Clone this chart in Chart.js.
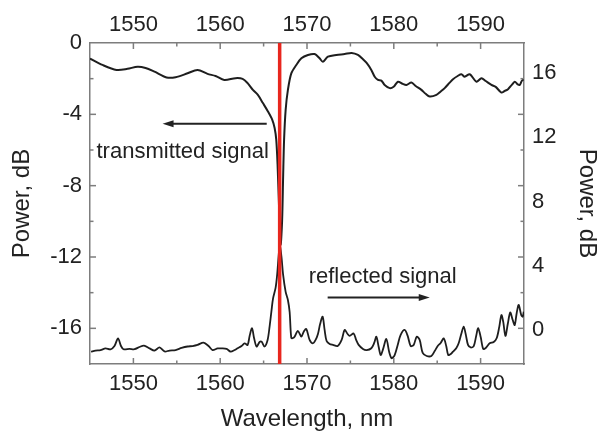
<!DOCTYPE html>
<html><head><meta charset="utf-8">
<script src="https://cdn.jsdelivr.net/npm/chart.js@4.4.1/dist/chart.umd.min.js"></script>
<style>html,body{margin:0;padding:0;background:#fff;overflow:hidden}canvas{display:block}</style>
</head><body><canvas id="c" width="599" height="431"></canvas>
<script>
// ---- data ----
const transWavelength = [1545.00,1546.44,1548.05,1549.32,1550.48,1551.40,1552.43,1553.82,1554.86,1556.24,1557.39,1558.54,1559.47,1560.47,1561.77,1562.58,1563.16,1563.77,1564.34,1564.92,1565.50,1566.00,1566.27,1566.46,1566.61,1566.79,1566.96,1567.13,1567.25,1567.36,1567.54,1567.80,1568.19,1568.77,1569.35,1570.11,1570.88,1571.45,1571.83,1572.41,1573.38,1574.34,1575.14,1575.87,1576.45,1576.87,1577.41,1577.80,1578.18,1578.57,1578.95,1579.53,1579.98,1580.48,1581.02,1581.45,1582.03,1582.52,1583.18,1583.67,1584.14,1584.91,1585.40,1585.86,1586.44,1586.82,1587.36,1587.79,1588.17,1588.75,1589.52,1590.10,1590.59,1591.25,1591.74,1592.40,1592.78,1593.16,1593.59,1593.94,1594.28,1594.51,1594.74,1594.97];
const transPower = [-0.87,-1.23,-1.51,-1.45,-1.33,-1.40,-1.61,-1.93,-1.92,-1.70,-1.51,-1.73,-1.85,-2.07,-1.97,-2.01,-2.25,-2.63,-2.91,-3.37,-3.84,-4.31,-4.77,-5.43,-6.83,-9.34,-11.3,-10.0,-7.5,-5.43,-3.75,-2.63,-1.70,-1.23,-0.86,-0.67,-0.62,-0.86,-1.05,-0.77,-0.67,-0.62,-0.56,-0.67,-0.91,-1.12,-1.51,-1.89,-2.07,-2.11,-2.35,-2.53,-2.45,-2.17,-2.29,-2.35,-2.22,-2.41,-2.63,-2.85,-3.00,-2.91,-2.72,-2.53,-2.22,-2.03,-1.85,-1.75,-1.89,-1.75,-2.17,-1.97,-2.13,-2.35,-2.46,-2.78,-2.69,-2.59,-2.35,-2.17,-2.32,-2.35,-2.13,-2.03];

const reflWavelength = [1545.12,1545.63,1546.21,1546.79,1547.36,1547.82,1548.23,1548.57,1548.86,1549.55,1550.13,1550.71,1551.22,1551.86,1552.43,1553.01,1553.59,1554.16,1554.86,1555.55,1556.24,1556.82,1557.39,1558.08,1558.66,1559.12,1559.70,1560.16,1560.73,1561.20,1561.66,1562.00,1562.46,1562.81,1563.16,1563.39,1563.67,1563.90,1564.19,1564.54,1564.77,1565.11,1565.46,1565.69,1565.92,1566.09,1566.38,1566.56,1566.79,1566.90,1567.07,1567.25,1567.54,1567.80,1568.00,1568.19,1568.40,1568.57,1568.95,1569.35,1569.61,1569.92,1570.30,1570.68,1570.99,1571.26,1571.51,1571.80,1572.03,1572.26,1572.61,1572.99,1573.53,1573.99,1574.34,1574.68,1574.91,1575.37,1575.66,1575.95,1576.45,1576.87,1577.41,1577.74,1577.99,1578.26,1578.49,1578.77,1579.14,1579.47,1579.75,1580.10,1580.48,1580.79,1581.25,1581.60,1581.94,1582.29,1582.64,1582.98,1583.33,1583.79,1584.33,1584.71,1585.06,1585.40,1585.75,1586.04,1586.27,1586.56,1586.82,1587.21,1587.48,1587.77,1588.05,1588.28,1588.55,1588.86,1589.21,1589.49,1589.72,1590.01,1590.30,1590.59,1591.05,1591.51,1591.86,1592.15,1592.40,1592.61,1592.86,1593.13,1593.41,1593.70,1593.93,1594.16,1594.39,1594.68,1594.85,1594.97];
const reflPower = [-1.35,-1.28,-1.25,-1.15,-1.21,-1.00,-0.52,-1.00,-1.20,-1.18,-1.20,-1.06,-0.97,-1.15,-1.28,-1.09,-1.34,-1.28,-1.25,-1.12,-1.03,-1.00,-0.93,-0.79,-1.00,-1.25,-1.15,-1.15,-1.18,-1.35,-1.25,-1.14,-1.00,-0.83,-0.93,-0.37,0.11,-0.50,-1.03,-0.75,-0.73,-1.03,-0.62,0.21,1.25,1.97,2.62,3.43,4.98,5.19,4.49,3.43,2.37,1.87,1.12,-0.50,-0.50,-0.42,-0.06,-0.42,-0.12,0.06,-0.62,-0.83,-0.62,-0.25,0.37,0.83,0.00,-0.69,-0.87,-0.93,-1.00,-0.62,0.00,-0.25,-0.37,-0.22,-0.62,-0.93,-1.18,-1.25,-1.14,-0.81,-0.42,-1.06,-1.56,-1.18,-0.56,-1.37,-1.76,-1.56,-0.87,-0.31,0.00,-0.37,-1.00,-0.93,-0.42,-0.62,-1.43,-1.62,-1.62,-1.31,-1.00,-0.81,-0.52,-1.00,-1.56,-1.50,-1.35,-1.12,-0.81,-0.25,0.21,-0.25,-0.93,-1.09,-1.00,-0.37,0.12,-0.44,-1.18,-1.12,-0.83,-0.75,-0.50,0.19,0.93,0.50,-0.37,0.37,1.09,0.62,0.31,1.06,1.56,0.93,0.83,1.14];

const markerWavelength = 1566.85;
const xTicks = [1550, 1560, 1570, 1580, 1590];
const leftTicks = [0, -4, -8, -12, -16];
const rightTicks = [0, 4, 8, 12, 16];

// ---- styling / layout ----
const FONT = '"Liberation Sans", Arial, Helvetica, sans-serif';
const TEXT = '#222';
const AXIS = '#7d7d7d';
Chart.defaults.font.family = FONT;
Chart.defaults.color = TEXT;

const toXY = (xs, ys) => xs.map((x, i) => ({x, y: ys[i]}));

const fixedSize = (w, h) => (scale) => {
  if (w != null) scale.width = w;
  if (h != null) scale.height = h;
};
const setTicks = (vals) => (scale) => { scale.ticks = vals.map(v => ({value: v})); };

const inwardTicks = {
  id: 'inwardTicks',
  afterDraw(chart) {
    const {ctx, chartArea: a, scales: s} = chart;
    ctx.save();
    ctx.strokeStyle = AXIS;
    ctx.lineWidth = 1.5;
    const seg = (x1, y1, x2, y2) => { ctx.beginPath(); ctx.moveTo(x1, y1); ctx.lineTo(x2, y2); ctx.stroke(); };
    for (let v = 1550; v < 1595; v += 5) {
      const x = s.x.getPixelForValue(v);
      const len = v % 10 === 0 ? 6 : 3.5;
      seg(x, a.bottom, x, a.bottom - len);
      seg(x, a.top, x, a.top + len);
    }
    for (let v = -16; v < 0; v += 2) {
      const y = s.y.getPixelForValue(v);
      const len = v % 4 === 0 ? 6 : 3.5;
      seg(a.left, y, a.left + len, y);
      seg(a.right, y, a.right - len, y);
    }
    ctx.restore();
  }
};

const notes = {
  id: 'notes',
  afterDatasetsDraw(chart) {
    const {ctx, scales: s} = chart;
    const X = v => s.x.getPixelForValue(v), Y = v => s.y.getPixelForValue(v);
    ctx.save();
    ctx.fillStyle = TEXT;
    ctx.strokeStyle = TEXT;
    ctx.font = '22px ' + FONT;
    ctx.textBaseline = 'middle';
    ctx.textAlign = 'left';
    ctx.fillText('transmitted signal', X(1545.75), Y(-6.1));
    ctx.fillText('reflected signal', X(1570.19), Y(-13.09));
    const arrow = (x1, x2, y) => {
      ctx.lineWidth = 2;
      const dir = Math.sign(x2 - x1);
      ctx.beginPath(); ctx.moveTo(x1, y); ctx.lineTo(x2 - dir * 8, y); ctx.stroke();
      ctx.beginPath(); ctx.moveTo(x2, y); ctx.lineTo(x2 - dir * 11, y - 3.5); ctx.lineTo(x2 - dir * 11, y + 3.5); ctx.closePath(); ctx.fill();
    };
    arrow(X(1565.36), X(1553.36), Y(-4.53));
    arrow(X(1572.38), X(1584.14), Y(-14.27));
    ctx.restore();
  }
};

const tickFont = {size: 22, family: FONT};
const titleFont = {size: 24, family: FONT, lineHeight: 1};

new Chart(document.getElementById('c'), {
  type: 'line',
  data: {
    datasets: [
      {
        label: 'marker',
        data: [{x: markerWavelength, y: -18}, {x: markerWavelength, y: 0}],
        borderColor: '#e8261e', borderWidth: 3.5, pointRadius: 0,
        xAxisID: 'x', yAxisID: 'y'
      },
      {
        label: 'transmitted signal',
        data: toXY(transWavelength, transPower),
        borderColor: '#1e1e1e', borderWidth: 2, pointRadius: 0, tension: 0.3,
        xAxisID: 'x', yAxisID: 'y'
      },
      {
        label: 'reflected signal',
        data: toXY(reflWavelength, reflPower),
        borderColor: '#1e1e1e', borderWidth: 1.8, pointRadius: 0, tension: 0.3,
        xAxisID: 'x', yAxisID: 'y2'
      }
    ]
  },
  options: {
    responsive: false,
    animation: false,
    devicePixelRatio: 1,
    layout: {padding: 0},
    plugins: {legend: {display: false}, tooltip: {enabled: false}},
    scales: {
      x: {
        type: 'linear', position: 'bottom', min: 1545, max: 1595,
        afterBuildTicks: setTicks(xTicks), afterFit: fixedSize(null, 67),
        grid: {display: false, drawTicks: false},
        border: {display: true, color: AXIS, width: 1.5},
        ticks: {font: tickFont, color: TEXT, padding: 7, maxRotation: 0, callback: v => String(v)},
        title: {display: true, text: 'Wavelength, nm', font: titleFont, color: TEXT, padding: {top: 0, bottom: 0}}
      },
      xTop: {
        type: 'linear', position: 'top', min: 1545, max: 1595,
        afterBuildTicks: setTicks(xTicks), afterFit: fixedSize(null, 43),
        grid: {display: false, drawTicks: false},
        border: {display: true, color: AXIS, width: 1.5},
        ticks: {font: tickFont, color: TEXT, padding: 5, maxRotation: 0, callback: v => String(v)}
      },
      y: {
        type: 'linear', position: 'left', min: -18, max: 0,
        afterBuildTicks: setTicks(leftTicks), afterFit: fixedSize(90, null),
        grid: {display: false, drawTicks: false},
        border: {display: true, color: AXIS, width: 1.5},
        ticks: {font: tickFont, color: TEXT, padding: 8, callback: v => String(v)},
        title: {display: true, text: 'Power, dB', font: titleFont, color: TEXT, padding: {top: 10, bottom: 0}}
      },
      y2: {
        type: 'linear', position: 'right', min: -2.12, max: 17.88,
        afterBuildTicks: setTicks(rightTicks), afterFit: fixedSize(75, null),
        grid: {display: false, drawTicks: false},
        border: {display: true, color: AXIS, width: 1.5},
        ticks: {font: tickFont, color: TEXT, padding: 8, callback: v => String(v)},
        title: {display: true, text: 'Power, dB', font: titleFont, color: TEXT, padding: {top: 0, bottom: 0}}
      }
    }
  },
  plugins: [inwardTicks, notes]
});
</script>
</body></html>
